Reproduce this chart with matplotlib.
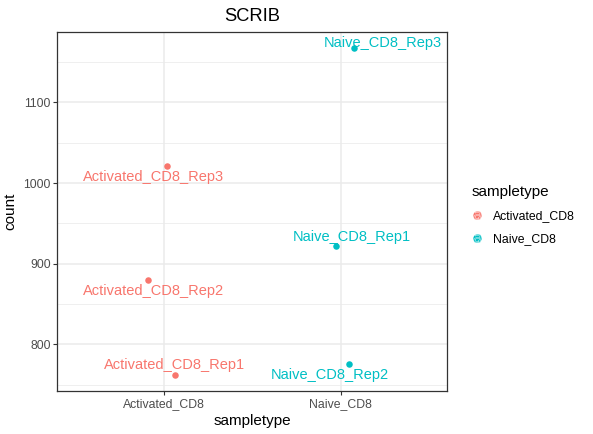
import matplotlib
matplotlib.use("Agg")
import matplotlib.pyplot as plt
from matplotlib.lines import Line2D
from matplotlib.legend_handler import HandlerTuple
from matplotlib.ticker import MultipleLocator

plt.rcParams["font.family"] = ["Liberation Sans", "DejaVu Sans"]

# data
groups = ["Activated_CD8", "Naive_CD8"]
colors = {"Activated_CD8": "#F8766D", "Naive_CD8": "#00BFC4"}
samples = ["Activated_CD8_Rep1", "Activated_CD8_Rep2", "Activated_CD8_Rep3",
           "Naive_CD8_Rep1", "Naive_CD8_Rep2", "Naive_CD8_Rep3"]
sampletype = ["Activated_CD8"] * 3 + ["Naive_CD8"] * 3
counts = [762.6, 880.3, 1021.3, 922.5, 775.7, 1167.4]
# horizontal jitter of each point (category units)
jitter = [0.066, -0.088, 0.021, -0.030, 0.045, 0.073]
# label offsets from the point, in pixels (repelled labels)
label_dx = [-1, 5, -14, 16, -19, 29]
label_dy = [10, -11, -11, 9, -11, 5]

fig = plt.figure(figsize=(5.93, 4.34), dpi=100)
ax = fig.add_axes([0.0966, 0.0991, 0.6577, 0.8279])

for name, grp, y, j, dx, dy in zip(samples, sampletype, counts, jitter, label_dx, label_dy):
    x = groups.index(grp) + 1 + j
    ax.scatter(x, y, s=22, color=colors[grp], zorder=3, linewidths=0)
    ax.annotate(name, (x, y), xytext=(dx, dy), textcoords="offset pixels",
                ha="center", va="center", fontsize=10.5, color=colors[grp], zorder=4)

lo, hi = min(counts), max(counts)
pad = 0.05 * (hi - lo)
ax.set_ylim(lo - pad, hi + pad)
ax.set_xlim(0.4, 2.6)
ax.set_xticks([1, 2])
ax.set_xticklabels(groups)
ax.yaxis.set_major_locator(MultipleLocator(100))
ax.yaxis.set_minor_locator(MultipleLocator(50))
ax.xaxis.set_minor_locator(plt.NullLocator())

ax.grid(True, which="major", color="#EBEBEB", linewidth=1.1, zorder=0)
ax.grid(True, which="minor", axis="y", color="#EBEBEB", linewidth=0.55, zorder=0)
ax.set_axisbelow(True)
for sp in ax.spines.values():
    sp.set_color("#333333")
    sp.set_linewidth(0.9)
ax.tick_params(which="major", length=2.75, width=0.8, color="#333333",
               labelsize=8.8, labelcolor="#4D4D4D", pad=2)
ax.tick_params(which="minor", length=0)

ax.set_title("SCRIB", fontsize=13.2, pad=8)
ax.set_xlabel("sampletype", fontsize=11, labelpad=3)
ax.set_ylabel("count", fontsize=11, labelpad=4)

handles = []
for g in groups:
    dot = Line2D([], [], marker="o", color=colors[g], linestyle="none", markersize=5)
    a = Line2D([], [], marker="$a$", color=colors[g], markeredgecolor="white",
               markeredgewidth=0.3, linestyle="none", markersize=6)
    handles.append((dot, a))
leg = fig.legend(handles, groups, title="sampletype", loc="center left",
                 bbox_to_anchor=(0.776, 0.505), frameon=False, fontsize=8.8,
                 title_fontsize=11, handler_map={tuple: HandlerTuple(ndivide=1, pad=0)},
                 handlelength=1.0, handletextpad=0.8, labelspacing=0.9)
leg._legend_box.align = "left"

fig.savefig("out.png", dpi=100)
